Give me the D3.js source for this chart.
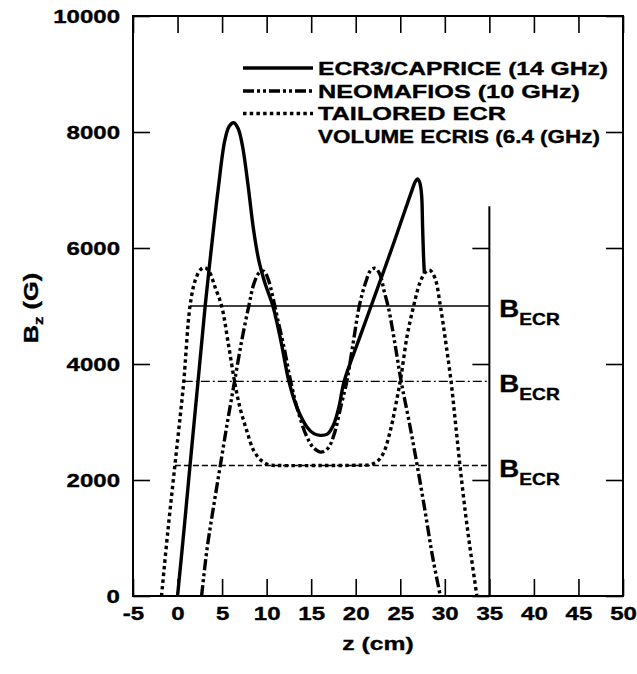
<!DOCTYPE html>
<html><head><meta charset="utf-8">
<script src="https://cdn.jsdelivr.net/npm/d3@7"></script>
<style>
body{margin:0;background:#fff}
text{font-family:"Liberation Sans",Arial,Helvetica,sans-serif;font-weight:bold;fill:#000;stroke:#000;stroke-width:0.35px}
</style>
</head><body>
<svg id="chart" width="637" height="674"></svg>
<script>
// ---- data ----
const xTicks = [-5,0,5,10,15,20,25,30,35,40,45,50];
const yTicks = [0,2000,4000,6000,8000,10000];
const ecrTicks = [0,2000,4000,6000];
const legendLabels = ["ECR3/CAPRICE (14 GHz)","NEOMAFIOS (10 GHz)","TAILORED ECR","VOLUME ECRIS (6.4 (GHz)"];
const ecr3 = [[0,0],[0.7,1100],[1.4,2250],[2.3,3700],[3.1,5000],[3.8,6000],[4.55,7000],[5.3,7850],[5.8,8100],[6.3,8160],[6.8,8060],[7.3,7750],[7.9,7100],[8.5,6350],[9.1,5800],[9.8,5400],[10.7,5000],[11.6,4400],[12.5,3700],[13.4,3250],[14.5,2920],[15.3,2800],[16.0,2770],[16.8,2790],[17.5,2950],[18.1,3250],[18.7,3700],[20.5,4480],[22.2,5200],[24.0,5970],[25.6,6680],[26.3,6990],[26.7,7150],[26.95,7190],[27.2,7120],[27.4,6900],[27.5,6400],[27.6,5900],[27.7,5560]];
const neomafios = [[2.7,0],[3.3,800],[4.0,1500],[4.8,2250],[5.6,3000],[6.4,3700],[7.2,4400],[8.0,5000],[8.6,5400],[9.2,5580],[9.7,5600],[10.2,5450],[10.7,5150],[11.2,4800],[12.0,4250],[12.7,3700],[13.5,3200],[14.5,2750],[15.3,2550],[16.1,2480],[16.9,2550],[17.6,2800],[18.3,3250],[19.0,3700],[19.7,4350],[20.4,5000],[21.1,5400],[21.7,5620],[22.2,5650],[22.7,5550],[23.2,5250],[23.7,4950],[24.4,4350],[25.1,3700],[26.0,3000],[26.9,2250],[27.8,1450],[28.6,700],[29.5,0]];
const tailored = [[-1.8,0],[-1.1,1100],[-0.3,2250],[0.3,3100],[0.7,3700],[1.4,5000],[2.0,5450],[2.6,5630],[3.1,5660],[3.6,5580],[4.2,5330],[4.95,5000],[5.7,4350],[6.4,3700],[7.0,3250],[7.75,2860],[8.5,2520],[9.3,2350],[10.2,2265],[11.5,2250],[16,2250],[20.5,2255],[21.6,2265],[22.4,2320],[23.1,2460],[23.9,2860],[24.5,3300],[25.1,3800],[25.75,4470],[26.5,5000],[27.2,5400],[27.8,5580],[28.3,5620],[28.9,5480],[29.5,5000],[30.1,4380],[30.7,3700],[31.2,2980],[31.7,2250],[32.3,1450],[32.9,750],[33.6,0]];
const becrValues = [5000,3700,2250];
const becrStarts = [1.4,0.7,-0.3];
const becrEnd = 35;
const ecrLineTop = 6720;

// ---- layout ----
const SX = 1.3;
const legendWidths = [290,262,188,282];
const svg = d3.select("#chart");
const x = d3.scaleLinear().domain([-5,50]).range([133,623]);
const y = d3.scaleLinear().domain([0,10000]).range([596,16]);
const styles = [
  {w:3.4, dash:null},
  {w:3.4, dash:"11,3,3,3,3,3"},
  {w:3.4, dash:"3.5,3.2"}
];
const thin = [
  {w:1.5, dash:null},
  {w:1.3, dash:"9,3,2,3"},
  {w:1.3, dash:"6,3"}
];

// frame
svg.append("rect").attr("x",x(-5)).attr("y",y(10000))
  .attr("width",x(50)-x(-5)).attr("height",y(0)-y(10000))
  .attr("fill","none").attr("stroke","#000").attr("stroke-width",2);

// axes
const TK = 17;
const styleText = sel => sel.style("font-family",'"Liberation Sans",Arial,sans-serif').style("font-weight","bold")
  .style("stroke","#000").style("stroke-width","0.35px");
const gB = svg.append("g").attr("transform",`translate(0,${y(0)})`)
  .call(d3.axisBottom(x).tickValues(xTicks).tickSizeInner(-TK).tickSizeOuter(0).tickFormat(d=>d));
gB.select(".domain").remove();
gB.selectAll("line").attr("stroke-width",1.6);
gB.selectAll("text").attr("y",24).attr("dy",0).attr("font-size",18.5).attr("transform",`scale(${SX},1)`).call(styleText);

const gT = svg.append("g").attr("transform",`translate(0,${y(10000)})`)
  .call(d3.axisTop(x).tickValues(xTicks).tickSizeInner(-TK).tickSizeOuter(0).tickFormat(""));
gT.select(".domain").remove();
gT.selectAll("line").attr("stroke-width",1.6);

const gL = svg.append("g").attr("transform",`translate(${x(-5)},0)`)
  .call(d3.axisLeft(y).tickValues(yTicks).tickSizeInner(-TK).tickSizeOuter(0).tickFormat(d=>d));
gL.select(".domain").remove();
gL.selectAll("line").attr("stroke-width",1.6);
gL.selectAll("text").attr("x",-13/SX).attr("dy","0.36em").attr("font-size",18.5).attr("transform",`scale(${SX},1)`).call(styleText);

const gR = svg.append("g").attr("transform",`translate(${x(50)},0)`)
  .call(d3.axisRight(y).tickValues(yTicks).tickSizeInner(-TK).tickSizeOuter(0).tickFormat(""));
gR.select(".domain").remove();
gR.selectAll("line").attr("stroke-width",1.6);

// vertical ECR line at z=35
svg.append("line").attr("x1",x(becrEnd)).attr("x2",x(becrEnd)).attr("y1",y(0)).attr("y2",y(ecrLineTop))
  .attr("stroke","#000").attr("stroke-width",2);
const gE = svg.append("g").attr("transform",`translate(${x(becrEnd)},0)`)
  .call(d3.axisLeft(y).tickValues(ecrTicks).tickSizeInner(TK).tickSizeOuter(0).tickFormat(""));
gE.select(".domain").remove();
gE.selectAll("line").attr("stroke-width",1.6);

// B_ECR horizontal lines
becrValues.forEach((v,i)=>{
  svg.append("line").attr("x1",x(becrStarts[i])).attr("x2",x(becrEnd)).attr("y1",y(v)).attr("y2",y(v))
    .attr("stroke","#000").attr("stroke-width",thin[i].w).attr("stroke-dasharray",thin[i].dash);
  const t = svg.append("text").attr("transform",`translate(${x(becrEnd)+10},${y(v)+11}) scale(1.2,1)`);
  t.append("tspan").attr("font-size",23).text("B");
  t.append("tspan").attr("font-size",16).attr("dy",8).text("ECR");
});

// curves
const line = d3.line().x(d=>x(d[0])).y(d=>y(d[1])).curve(d3.curveCatmullRom.alpha(0.5));
[ecr3, neomafios, tailored].forEach((s,i)=>{
  svg.append("path").attr("d",line(s)).attr("fill","none").attr("stroke","#000")
    .attr("stroke-width",styles[i].w).attr("stroke-dasharray",styles[i].dash).attr("stroke-linejoin","round");
});

// legend
const legY = [68,91,113.5,136];
legendLabels.forEach((lab,i)=>{
  if(i<3){
    svg.append("line").attr("x1",243).attr("x2",313).attr("y1",legY[i]).attr("y2",legY[i])
      .attr("stroke","#000").attr("stroke-width",styles[i].w).attr("stroke-dasharray",styles[i].dash);
  }
  svg.append("text").attr("x",318).attr("y",legY[i]+6.5)
    .attr("font-size",18.5).attr("textLength",legendWidths[i]).attr("lengthAdjust","spacingAndGlyphs").text(lab);
});

// axis titles
svg.append("text").attr("transform",`translate(${(x(-5)+x(50))/2},650) scale(${SX},1)`)
  .attr("text-anchor","middle").attr("font-size",19).text("z (cm)");
const yt = svg.append("text").attr("transform",`translate(38,308) rotate(-90) scale(${SX},1)`)
  .attr("text-anchor","middle").attr("font-size",19.5);
yt.append("tspan").text("B");
yt.append("tspan").attr("font-size",13).attr("dy",5).text("z");
yt.append("tspan").attr("dy",-5).text(" (G)");
</script>
</body></html>
